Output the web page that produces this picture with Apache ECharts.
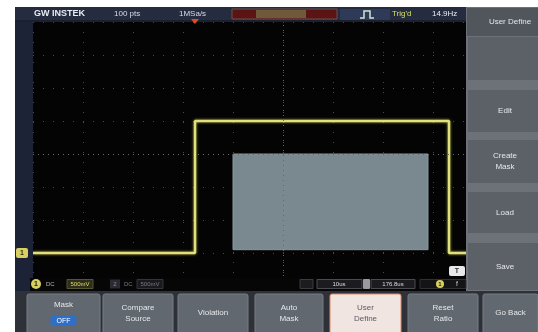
<!DOCTYPE html>
<html>
<head>
<meta charset="utf-8">
<script src="https://cdn.jsdelivr.net/npm/echarts@6/dist/echarts.min.js"></script>
<style>
html,body{margin:0;padding:0;background:#fff;}
#c{width:538px;height:332px;}
</style>
</head>
<body>
<div id="c"></div>
<script>
// CH1 pulse: time in µs (10 µs/div), level in V (500 mV/div)
const traceTime  = [0, 32.4, 32.4, 83.2, 83.2, 100];
const traceVolts = [0, 0, 2.0, 2.0, 0, 0];

// user-defined mask rectangle (time span, level span)
const maskTime  = [40, 79];
const maskVolts = [0.05, 1.5];

// screen texts
const headerTexts = ['GW INSTEK', '100 pts', '1MSa/s', "Trig'd", '14.9Hz'];
const sideMenuTitle = 'User Define';
const sideMenu   = ['', 'Edit', 'Create\nMask', 'Load', 'Save'];
const bottomMenu = ['Mask', 'Compare\nSource', 'Violation', 'Auto\nMask', 'User\nDefine', 'Reset\nRatio', 'Go Back'];
const ch1Status  = ['1', 'DC', '500mV'];
const ch2Status  = ['2', 'DC', '500mV'];
const hStatus    = ['10us', '176.8us'];

const chart = echarts.init(document.getElementById('c'), null, {renderer: 'canvas'});
const FONT = 'Liberation Sans, Arial, sans-serif';

const gridDots = {color: '#4a4a4a', type: [1, 9], width: 1};

chart.setOption({
  animation: false,
  backgroundColor: '#ffffff',
  grid: {left: 33, right: 5, top: 22, bottom: 46, show: true, backgroundColor: '#040404', borderWidth: 0},
  xAxis: {
    type: 'value', min: 0, max: 100, interval: 10,
    axisLine: {show: false}, axisTick: {show: false}, axisLabel: {show: false},
    splitLine: {show: true, lineStyle: gridDots}
  },
  yAxis: {
    type: 'value', min: -0.5, max: 3.5, interval: 0.5,
    axisLine: {show: false}, axisTick: {show: false}, axisLabel: {show: false},
    splitLine: {show: true, lineStyle: gridDots}
  },
  series: [
    {
      type: 'custom',
      name: 'mask',
      z: 2,
      silent: true,
      encode: {x: [0, 1], y: [2, 3]},
      data: [[maskTime[0], maskTime[1], maskVolts[0], maskVolts[1]]],
      renderItem: function (params, api) {
        const p0 = api.coord([api.value(0), api.value(3)]);
        const p1 = api.coord([api.value(1), api.value(2)]);
        return {
          type: 'rect',
          shape: {x: p0[0], y: p0[1], width: p1[0] - p0[0], height: p1[1] - p0[1]},
          style: {fill: '#7a8990', stroke: '#8a989e', lineWidth: 1}
        };
      }
    },
    {
      type: 'line',
      name: 'CH1',
      z: 3,
      symbol: 'none',
      silent: true,
      data: traceTime.map((t, i) => [t, traceVolts[i]]),
      lineStyle: {color: '#e2e07a', width: 2.5, shadowColor: 'rgba(220,220,90,0.7)', shadowBlur: 3},
      markLine: {
        silent: true,
        symbol: 'none',
        label: {show: false},
        lineStyle: {color: '#6a6a6a', type: [1, 4], width: 1},
        data: [{xAxis: 50}, {yAxis: 1.5}]
      }
    }
  ]
});

// pixel positions taken from the axes
const groundY = chart.convertToPixel({gridIndex: 0}, [0, traceVolts[0]])[1];
const trigX = chart.convertToPixel({gridIndex: 0}, [traceTime[1], 0])[0];

function txt(x, y, text, size, fill, align, extra) {
  return Object.assign({
    type: 'text', z: 110, x: x, y: y,
    style: {text: text, font: (extra && extra.bold ? 'bold ' : '') + size + 'px ' + FONT,
            fill: fill, align: align || 'left', verticalAlign: 'middle', lineHeight: size + 3}
  }, {});
}
function rect(x, y, w, h, fill, stroke, r, z) {
  return {type: 'rect', z: z || 100, shape: {x: x, y: y, width: w, height: h, r: r || 0},
          style: {fill: fill, stroke: stroke || null, lineWidth: stroke ? 1 : 0}};
}

const g = [];
// white frame around the screen
g.push(rect(0, 0, 538, 7, '#ffffff'));
g.push(rect(0, 0, 15, 332, '#ffffff'));
// bezel strips
g.push(rect(15, 7, 18, 286, '#1c2336'));
g.push(rect(15, 7, 451, 15, '#252c3f'));
g.push(rect(15, 20, 451, 2, '#1a2030'));
// header texts
g.push(txt(34, 14, headerTexts[0], 9, '#e8ecf4', 'left', {bold: true}));
g.push(txt(114, 14, headerTexts[1], 8, '#d8dce6'));
g.push(txt(179, 14, headerTexts[2], 8, '#d8dce6'));
// memory bar
g.push(rect(232, 9, 105, 10, '#5a1414', '#6a5050'));
g.push(rect(256, 10, 50, 8, '#6e5a38'));
// trigger position marker
g.push({type: 'polygon', z: 110, shape: {points: [[trigX - 4, 19], [trigX + 4, 19], [trigX, 24]]}, style: {fill: '#e04a20'}});
// trigger type icon + status
g.push(rect(340, 9, 50, 11, '#2e3a58'));
g.push({type: 'polyline', z: 110, shape: {points: [[360, 18], [364, 18], [364, 11], [370, 11], [370, 18], [374, 18]]},
        style: {stroke: '#cfe4cf', lineWidth: 1.5, fill: null}});
g.push(txt(392, 14, headerTexts[3], 8, '#d6e060'));
g.push(txt(432, 14, headerTexts[4], 8, '#e8ecf4'));

// right side menu
g.push(rect(466, 7, 72, 286, '#6c7278'));
g.push(rect(467, 8, 71, 28, '#50565c'));
g.push(txt(510, 22, sideMenuTitle, 8, '#e4e6ea', 'center'));
const sideY = [[37, 80], [90, 132], [140, 183], [192, 233], [243, 290]];
sideMenu.forEach((label, i) => {
  const [y0, y1] = sideY[i];
  g.push(rect(468, y0, 70, y1 - y0, '#5b6167'));
  if (label) g.push(txt(505, (y0 + y1) / 2, label, 8, '#e6e8ec', 'center'));
});

// status bar under the graticule
g.push(rect(30, 278, 436, 13, '#060606'));
g.push({type: 'circle', z: 105, shape: {cx: 36, cy: 284, r: 5}, style: {fill: '#d8d060'}});
g.push(txt(36, 284.5, ch1Status[0], 7, '#202010', 'center', {bold: true}));
g.push(txt(46, 284.5, ch1Status[1], 6, '#b8b8b8'));
g.push(rect(67, 279.5, 26, 9, '#2e2e1a', '#555530'));
g.push(txt(80, 284.5, ch1Status[2], 6, '#dede70', 'center'));
g.push(rect(110, 279.5, 10, 9, '#2a2a32'));
g.push(txt(115, 284.5, ch2Status[0], 6, '#8a8a96', 'center'));
g.push(txt(124, 284.5, ch2Status[1], 6, '#7a7a80'));
g.push(rect(137, 279.5, 26, 9, '#1a1a1e', '#333338'));
g.push(txt(150, 284.5, ch2Status[2], 6, '#7a7a80', 'center'));
g.push(rect(300, 279.5, 13, 9, '#1c1c20', '#3a3a40'));
g.push(rect(317, 279.5, 45, 9, '#1c1c20', '#4a4a50'));
g.push(txt(339, 284.5, hStatus[0], 6, '#dcdce0', 'center'));
g.push(rect(363, 279, 7, 10, '#9a9aa0', null, 1));
g.push(rect(371, 279.5, 44, 9, '#1c1c20', '#4a4a50'));
g.push(txt(393, 284.5, hStatus[1], 6, '#dcdce0', 'center'));
g.push(rect(420, 279.5, 46, 9, '#141416', '#303034'));
g.push({type: 'circle', z: 105, shape: {cx: 440, cy: 284, r: 4}, style: {fill: '#d8d060'}});
g.push(txt(440, 284.5, '1', 6, '#202010', 'center', {bold: true}));
g.push(txt(457, 284.5, 'f', 7, '#d0d0d0', 'center'));

// channel 1 ground marker at the 0 V level
g.push(rect(16, groundY - 5, 12, 10, '#d8d060', null, 2, 110));
g.push(txt(22, groundY + 0.5, '1', 7, '#303010', 'center', {bold: true}));
// trigger level marker on the right edge
g.push(rect(449, 266, 16, 10, '#e8e8ea', null, 2, 105));
g.push(txt(457, 271.5, 'T', 7, '#303036', 'center', {bold: true}));

// bottom soft-key row
g.push(rect(15, 291, 523, 41, '#2e3238'));
const bottomX = [[27, 100], [103, 173], [178, 248], [255, 323], [330, 401], [408, 478], [483, 538]];
bottomMenu.forEach((label, i) => {
  const [x0, x1] = bottomX[i];
  const active = i === 4;
  g.push(rect(x0, 294, x1 - x0, 40, active ? '#f1e5e1' : '#62686f', active ? '#e08a6a' : '#767c84', 2));
  const cx = (x0 + x1) / 2;
  if (i === 0) {
    g.push(txt(cx, 305, label, 8, '#e6e8ec', 'center'));
    g.push(rect(cx - 13, 315.5, 26, 10, '#2f6fc8', null, 2, 105));
    g.push(txt(cx, 321, 'OFF', 7, '#ffffff', 'center'));
  } else {
    g.push(txt(cx, 313, label, 8, active ? '#5a5a66' : '#e6e8ec', 'center'));
  }
});

chart.setOption({graphic: g});
</script>
</body>
</html>
